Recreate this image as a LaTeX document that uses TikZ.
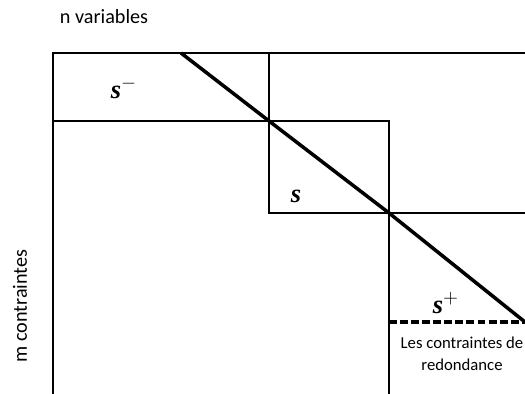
\documentclass[tikz,border=0pt]{standalone}
\usepackage{amsmath}
\usepackage{fontspec}
\setmainfont{Carlito}
\newfontfamily\symfont{Liberation Serif}
\usepackage{tikz}
\usetikzlibrary{positioning, calc}
\tikzset{
  gridline/.style={draw=black, line width=1.2pt},
  diagline/.style={draw=black, line width=2pt},
  redline/.style={draw=black, line width=1.8pt, dash pattern=on 4.5pt off 1.8pt},
  axislabel/.style={font=\fontsize{11.5}{13}\selectfont, inner sep=0pt},
  blocklabel/.style={font=\fontsize{15}{17}\selectfont\symfont\bfseries\itshape, inner sep=0pt},
  notelabel/.style={font=\fontsize{9.5}{12.5}\selectfont, align=center, inner sep=0pt},
}

\begin{document}
\begin{tikzpicture}[x=0.02cm, y=-0.02cm]

  \useasboundingbox (0,0) rectangle (525,394);
  \clip (0,0) rectangle (525,394);

  %% corners of the blocks
  \coordinate (tl) at (53,53);
  \coordinate (c1) at (269,121);
  \coordinate (c2) at (389,213);

  %% block outlines
  \draw[gridline] (53,394) -- (tl) -- (530,53);
  \draw[gridline] (269,53) -- (269,213) -- (530,213);
  \draw[gridline] (53,121) -- (389,121) -- (389,400);

  %% diagonal
  \draw[diagline] (181,53) -- (c1) -- (c2) -- (525,322);

  %% redundant constraints
  \draw[redline] (389,322) -- (530,322);

  %% labels
  \node[axislabel] (nvar) at (104,17) {n variables};
  \node[axislabel, rotate=90] (mcons) at (20,306) {m contraintes};
  \node[blocklabel] (sminus) at (124,88) {s$^{-}$};
  \node[blocklabel] (szero) at (296,196) {s};
  \node[blocklabel] (splus) at (446,303) {s$^{+}$};
  \node[notelabel] (redond) at (462,354) {Les contraintes de\\redondance};

\end{tikzpicture}
\end{document}
